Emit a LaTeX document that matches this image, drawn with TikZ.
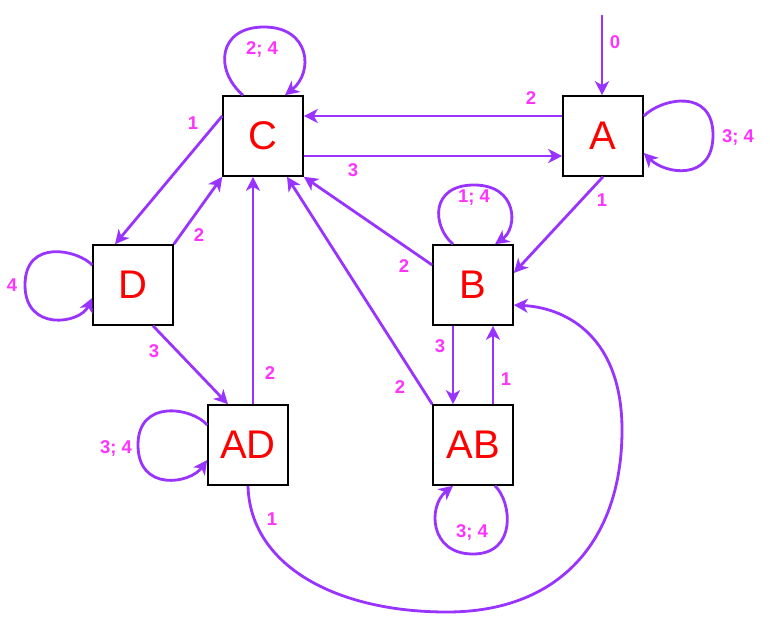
\documentclass[tikz,border=0pt]{standalone}
\usepackage{fontspec}
\setmainfont{Liberation Sans}
\usetikzlibrary{arrows.meta}
\definecolor{edgecol}{HTML}{9933FF}
\definecolor{lblcol}{HTML}{FF33FF}
\definecolor{statecol}{HTML}{FF0000}
\begin{document}
\begin{tikzpicture}[x=1pt,y=-1pt,
  state/.style={draw=black,line width=1.6pt,fill=white,minimum width=80pt,minimum height=80pt,
    inner sep=0pt,text=statecol,font=\fontsize{40}{40}\selectfont},
  trans/.style={draw=edgecol,line width=2.8pt,-{Stealth[length=14pt,width=14pt,inset=4pt]}},
  lbl/.style={text=lblcol,font=\fontsize{18.5}{18.5}\selectfont\bfseries,inner sep=0pt}]
\useasboundingbox (0,0) rectangle (770,627);

% states
\node[state] (C)  at (263,136) {C};
\node[state] (A)  at (603,136) {A};
\node[state] (D)  at (133,285) {D};
\node[state] (B)  at (473,285) {B};
\node[state] (AD) at (248,445) {AD};
\node[state] (AB) at (473,445) {AB};
\coordinate (init) at (602,15);

% initial arrow
\draw[trans] (init) -- ([xshift=-1pt]A.north);

% straight transitions
\draw[trans] ([yshift=20pt]A.west) -- ([yshift=20pt]C.east);
\draw[trans] ([yshift=-20pt]C.east) -- ([yshift=-20pt]A.west);
\draw[trans] (A.south) -- ([yshift=12pt]B.east);
\draw[trans] ([yshift=20pt]C.west) -- ([xshift=-18pt]D.north);
\draw[trans] (D.north east) -- (C.south west);
\draw[trans] ([xshift=20pt]D.south) -- ([xshift=-20pt]AD.north);
\draw[trans] ([xshift=5pt]AD.north) -- ([xshift=-10pt]C.south);
\draw[trans] ([yshift=20pt]B.west) -- (C.south east);
\draw[trans] (AB.north west) -- ([xshift=24pt]C.south);
\draw[trans] ([xshift=-20pt]B.south) -- ([xshift=-20pt]AB.north);
\draw[trans] ([xshift=20pt]AB.north) -- ([xshift=20pt]B.south);

% long curve AD -> B
\draw[trans] (AD.south) .. controls (250,565) and (335,612) .. (447,612)
  .. controls (560,612) and (622,540) .. (622,430)
  .. controls (622,340) and (570,308) .. ([yshift=-20pt]B.east);

% self loops
\draw[trans] ([xshift=-20pt]C.north) .. controls (214,70) and (218,27) .. (264,27)
  .. controls (310,27) and (314,72) .. ([xshift=22pt]C.north);
\draw[trans] ([yshift=20pt]A.east) .. controls (662,98) and (713,88) .. (713,135)
  .. controls (713,182) and (665,174) .. ([yshift=-17pt]A.east);
\draw[trans] ([xshift=-20pt]B.north) .. controls (432,226) and (430,185) .. (474,185)
  .. controls (518,185) and (518,228) .. ([xshift=22pt]B.north);
\draw[trans] ([yshift=20pt]D.west) .. controls (78,250) and (25,238) .. (25,285)
  .. controls (25,332) and (80,324) .. ([yshift=-13pt]D.west);
\draw[trans] ([yshift=20pt]AD.west) .. controls (193,408) and (138,398) .. (138,445)
  .. controls (138,492) and (190,484) .. ([yshift=-15pt]AD.west);
\draw[trans] ([xshift=22pt]AB.south) .. controls (512,502) and (517,554) .. (473,554)
  .. controls (429,554) and (428,506) .. ([xshift=-20pt]AB.south);

% labels
\node[lbl] (l0)    at (615,42)  {0};
\node[lbl] (lAC)   at (531,98)  {2};
\node[lbl] (lCA)   at (353,170) {3};
\node[lbl] (lAA)   at (738,137) {3; 4};
\node[lbl] (lCC)   at (262,49)  {2; 4};
\node[lbl] (lAB)   at (602,200) {1};
\node[lbl] (lCD)   at (193,123) {1};
\node[lbl] (lDC)   at (199,235) {2};
\node[lbl] (lDD)   at (12,285)  {4};
\node[lbl] (lDAD)  at (154,351) {3};
\node[lbl] (lADC)  at (270,373) {2};
\node[lbl] (lADAD) at (116,448) {3; 4};
\node[lbl] (lBC)   at (404,266) {2};
\node[lbl] (lBB)   at (474,198) {1; 4};
\node[lbl] (lBAB)  at (440,346) {3};
\node[lbl] (lABB)  at (506,379) {1};
\node[lbl] (lABC)  at (400,387) {2};
\node[lbl] (lABAB) at (472,532) {3; 4};
\node[lbl] (lADB)  at (272,519) {1};
\end{tikzpicture}
\end{document}
